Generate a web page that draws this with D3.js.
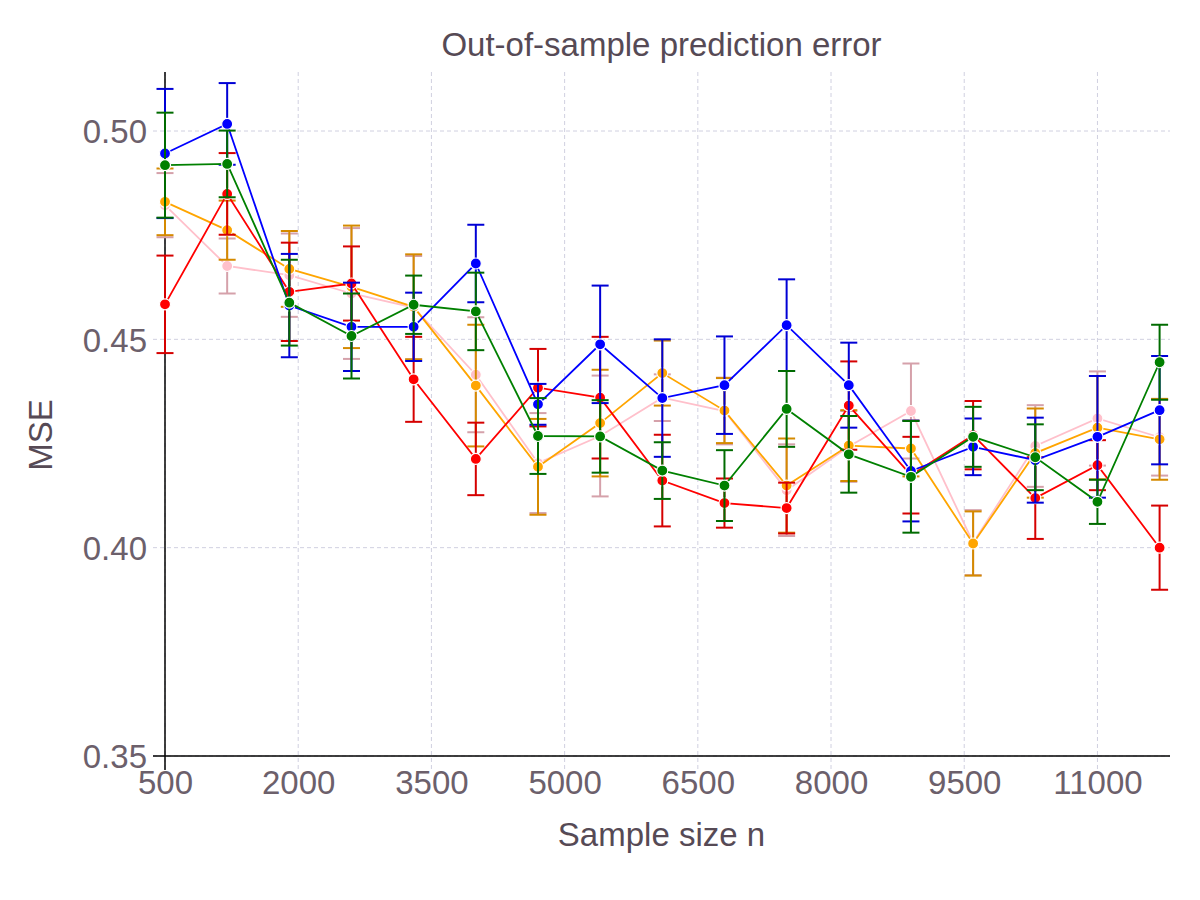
<!DOCTYPE html>
<html>
<head>
<meta charset="utf-8">
<script src="https://cdn.jsdelivr.net/npm/d3@7"></script>
<style>
  body { margin: 0; background: #fff; }
  svg text { font-family: "Liberation Sans", Arial, Helvetica, sans-serif; }
</style>
</head>
<body>
<div class="visiHolder"></div>
<script>
const sampleSizes = [500, 1200, 1900, 2600, 3300, 4000, 4700, 5400, 6100, 6800, 7500, 8200, 8900, 9600, 10300, 11000, 11700];

const redMse = [0.4584, 0.4849, 0.4614, 0.4634, 0.4404, 0.4213, 0.4384, 0.4360, 0.4161, 0.4107, 0.4095, 0.4341, 0.4174, 0.4270, 0.4119, 0.4198, 0.4000];
const redErr = [0.0117, 0.0098, 0.0118, 0.0089, 0.0102, 0.0087, 0.0093, 0.0146, 0.0110, 0.0059, 0.0061, 0.0106, 0.0092, 0.0082, 0.0098, 0.0060, 0.0101];

const pinkMse = [0.4822, 0.4676, 0.4654, 0.4610, 0.4576, 0.4415, 0.4203, 0.4268, 0.4360, 0.4328, 0.4138, 0.4243, 0.4328, 0.4012, 0.4244, 0.4310, 0.4265];
const pinkErr = [0.0077, 0.0066, 0.0100, 0.0157, 0.0124, 0.0138, 0.0120, 0.0145, 0.0056, 0.0080, 0.0110, 0.0085, 0.0114, 0.0078, 0.0098, 0.0113, 0.0092];

const orangeMse = [0.4830, 0.4762, 0.4669, 0.4626, 0.4578, 0.4389, 0.4194, 0.4299, 0.4419, 0.4329, 0.4149, 0.4245, 0.4238, 0.4010, 0.4227, 0.4288, 0.4260];
const orangeErr = [0.0080, 0.0071, 0.0091, 0.0147, 0.0126, 0.0146, 0.0115, 0.0128, 0.0078, 0.0078, 0.0113, 0.0085, 0.0067, 0.0077, 0.0107, 0.0124, 0.0097];

const blueMse = [0.4946, 0.5017, 0.4581, 0.4530, 0.4530, 0.4682, 0.4344, 0.4488, 0.4359, 0.4390, 0.4534, 0.4390, 0.4184, 0.4242, 0.4210, 0.4266, 0.4330];
const blueErr = [0.0155, 0.0098, 0.0124, 0.0106, 0.0082, 0.0093, 0.0049, 0.0141, 0.0141, 0.0117, 0.0110, 0.0102, 0.0121, 0.0068, 0.0102, 0.0146, 0.0130];

const greenMse = [0.4918, 0.4921, 0.4588, 0.4508, 0.4583, 0.4567, 0.4268, 0.4267, 0.4185, 0.4149, 0.4333, 0.4224, 0.4170, 0.4266, 0.4217, 0.4110, 0.4445];
const greenErr = [0.0126, 0.0080, 0.0103, 0.0102, 0.0070, 0.0093, 0.0091, 0.0087, 0.0068, 0.0085, 0.0091, 0.0092, 0.0134, 0.0072, 0.0079, 0.0053, 0.0090];

const xTicks = [500, 2000, 3500, 5000, 6500, 8000, 9500, 11000];
const yTicks = [0.35, 0.40, 0.45, 0.50];

// drawing order: later ones end up on top
const series = [
  { color: "pink", mse: pinkMse, err: pinkErr },
  { color: "orange", mse: orangeMse, err: orangeErr },
  { color: "red", mse: redMse, err: redErr },
  { color: "blue", mse: blueMse, err: blueErr },
  { color: "green", mse: greenMse, err: greenErr },
];

const width = 1200;
const height = 900;
const panel = { left: 153, right: 1170, top: 72, bottom: 770 };
const textDark = "#564a55";
const textTick = "#6c606b";

const svg = d3
  .select(".visiHolder")
  .append("svg")
  .attr("width", width)
  .attr("height", height);

const xScale = d3.scaleLinear().domain([500, 11700]).range([165, 1159.6]);
const yScale = d3.scaleLinear().domain([0.35, 0.5]).range([756, 131]);

// grid
const grid = svg.append("g").attr("class", "grid");
grid
  .selectAll("line.vgrid")
  .data(xTicks)
  .enter()
  .append("line")
  .attr("x1", (d) => xScale(d))
  .attr("x2", (d) => xScale(d))
  .attr("y1", panel.top)
  .attr("y2", panel.bottom)
  .attr("stroke", "#d0d0e0")
  .attr("stroke-width", 1)
  .attr("stroke-dasharray", "4,3");
grid
  .selectAll("line.hgrid")
  .data(yTicks)
  .enter()
  .append("line")
  .attr("x1", panel.left)
  .attr("x2", panel.right)
  .attr("y1", (d) => yScale(d))
  .attr("y2", (d) => yScale(d))
  .attr("stroke", "#d0d0e0")
  .attr("stroke-width", 1)
  .attr("stroke-dasharray", "4,3");

// axis lines
svg
  .append("line")
  .attr("x1", xScale(500))
  .attr("x2", xScale(500))
  .attr("y1", panel.top)
  .attr("y2", panel.bottom)
  .attr("stroke", "#000")
  .attr("stroke-width", 1.5);
svg
  .append("line")
  .attr("x1", panel.left)
  .attr("x2", panel.right)
  .attr("y1", yScale(0.35))
  .attr("y2", yScale(0.35))
  .attr("stroke", "#000")
  .attr("stroke-width", 1.5);

// tick labels through d3 axes
const xAxis = d3
  .axisBottom(xScale)
  .tickValues(xTicks)
  .tickFormat(d3.format("d"))
  .tickSize(0)
  .tickPadding(0);
const gx = svg
  .append("g")
  .attr("id", "x-axis")
  .attr("transform", `translate(0, 771)`)
  .call(xAxis);
gx.select(".domain").remove();
gx.selectAll("text")
  .attr("fill", textTick)
  .attr("dy", "0.71em")
  .style("font-size", "33px");

const yAxis = d3
  .axisLeft(yScale)
  .tickValues(yTicks)
  .tickFormat(d3.format(".2f"))
  .tickSize(0)
  .tickPadding(18);
const gy = svg
  .append("g")
  .attr("id", "y-axis")
  .attr("transform", `translate(165, 0)`)
  .call(yAxis);
gy.select(".domain").remove();
gy.selectAll("text")
  .attr("fill", textTick)
  .attr("dy", "0.36em")
  .style("font-size", "33px");

// series
const line = d3
  .line()
  .x((d) => xScale(d.n))
  .y((d) => yScale(d.v));
const capHalf = 8.5;

series.forEach((s) => {
  const pts = sampleSizes.map((n, i) => ({ n: n, v: s.mse[i], e: s.err[i] }));
  const barColor = d3.color(s.color).darker(0.5).formatHex();
  const g = svg.append("g");

  const bars = g.selectAll("g.bar").data(pts).enter().append("g");
  bars
    .append("line")
    .attr("x1", (d) => xScale(d.n))
    .attr("x2", (d) => xScale(d.n))
    .attr("y1", (d) => yScale(d.v - d.e))
    .attr("y2", (d) => yScale(d.v + d.e))
    .attr("stroke", barColor)
    .attr("stroke-width", 2);
  bars
    .append("line")
    .attr("x1", (d) => xScale(d.n) - capHalf)
    .attr("x2", (d) => xScale(d.n) + capHalf)
    .attr("y1", (d) => yScale(d.v + d.e))
    .attr("y2", (d) => yScale(d.v + d.e))
    .attr("stroke", barColor)
    .attr("stroke-width", 2);
  bars
    .append("line")
    .attr("x1", (d) => xScale(d.n) - capHalf)
    .attr("x2", (d) => xScale(d.n) + capHalf)
    .attr("y1", (d) => yScale(d.v - d.e))
    .attr("y2", (d) => yScale(d.v - d.e))
    .attr("stroke", barColor)
    .attr("stroke-width", 2);

  g.append("path")
    .datum(pts)
    .attr("d", line)
    .attr("fill", "none")
    .attr("stroke", s.color)
    .attr("stroke-width", 1.8);

  g.selectAll("circle")
    .data(pts)
    .enter()
    .append("circle")
    .attr("cx", (d) => xScale(d.n))
    .attr("cy", (d) => yScale(d.v))
    .attr("r", 5.5)
    .attr("fill", s.color)
    .attr("stroke", "#fff")
    .attr("stroke-width", 1.2);
});

// titles
svg
  .append("text")
  .attr("x", (panel.left + panel.right) / 2)
  .attr("y", 56)
  .attr("text-anchor", "middle")
  .attr("fill", textDark)
  .style("font-size", "33px")
  .text("Out-of-sample prediction error");

svg
  .append("text")
  .attr("x", (panel.left + panel.right) / 2)
  .attr("y", 846)
  .attr("text-anchor", "middle")
  .attr("fill", textDark)
  .style("font-size", "33px")
  .text("Sample size n");

svg
  .append("text")
  .attr("transform", `translate(52, 435) rotate(-90)`)
  .attr("text-anchor", "middle")
  .attr("fill", textDark)
  .style("font-size", "33px")
  .text("MSE");
</script>
</body>
</html>
